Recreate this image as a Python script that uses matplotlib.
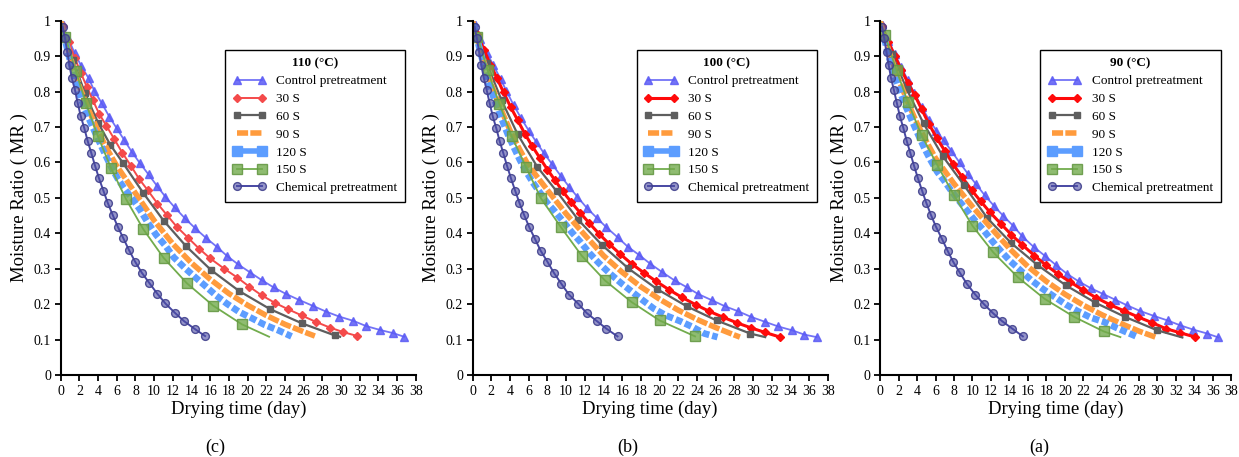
import matplotlib
matplotlib.use("Agg")
import matplotlib.pyplot as plt
from matplotlib.lines import Line2D
from matplotlib.ticker import FuncFormatter, MultipleLocator

plt.rcParams['font.family'] = ['Liberation Serif', 'DejaVu Serif']

# ---- values (drying time in days, moisture ratio) ----
# panel (c) 110 C
c_control_t = [0.1, 0.8, 1.5, 2.2, 3.0, 3.6, 4.4, 5.2, 6.0, 6.8, 7.6, 8.5, 9.4, 10.3, 11.2, 12.2, 13.3,
               14.4, 15.5, 16.7, 17.8, 19.0, 20.3, 21.5, 22.8, 24.1, 25.5, 27.0, 28.4, 29.8, 31.3,
               32.7, 34.2, 35.6, 36.75]
c_control = [0.995, 0.95, 0.908, 0.872, 0.837, 0.802, 0.767, 0.729, 0.696, 0.663, 0.630, 0.597,
             0.566, 0.534, 0.503, 0.473, 0.442, 0.414, 0.388, 0.362, 0.336, 0.312, 0.289, 0.268,
             0.247, 0.229, 0.212, 0.195, 0.179, 0.165, 0.153, 0.138, 0.127, 0.118, 0.108]
c_30_t = [0.2, 0.85, 1.5, 2.15, 2.8, 3.45, 4.1, 4.9, 5.75, 6.6, 7.5, 8.4, 9.3, 10.35, 11.35, 12.4,
          13.6, 14.8, 16.0, 17.5, 18.9, 20.2, 21.5, 22.9, 24.3, 25.8, 27.3, 28.8, 30.25, 31.75]
c_30 = [0.985, 0.94, 0.895, 0.853, 0.813, 0.775, 0.738, 0.703, 0.665, 0.627, 0.591, 0.553, 0.522,
        0.484, 0.452, 0.419, 0.388, 0.357, 0.329, 0.300, 0.275, 0.249, 0.225, 0.204, 0.186, 0.168,
        0.150, 0.134, 0.121, 0.110]
c_60_t = [0.0, 1.3, 2.6, 4.0, 5.3, 6.7, 8.8, 11.0, 13.4, 16.1, 19.1, 22.4, 25.8, 29.3, 29.9]
c_60 = [1.0, 0.89, 0.795, 0.712, 0.65, 0.597, 0.515, 0.436, 0.364, 0.296, 0.237, 0.186, 0.146,
        0.112, 0.108]
c_90_t = [0, 1, 2, 3, 4, 5, 6, 8, 10, 12, 14, 16, 18, 20, 22, 24, 26, 27.2]
c_90 = [1.0, 0.90, 0.815, 0.748, 0.688, 0.636, 0.59, 0.513, 0.436, 0.37, 0.316, 0.27, 0.23,
        0.197, 0.168, 0.143, 0.122, 0.110]
c_120_t = [0.3, 0.9, 1.5, 2.15, 2.8, 3.45, 4.1, 4.75, 5.45, 6.15, 6.9, 7.65, 8.45, 9.3, 10.2, 11.2,
           12.1, 13.2, 14.3, 15.4, 16.6, 17.8, 19.1, 20.4, 21.8, 23.3, 24.7]
c_120 = [0.965, 0.898, 0.84, 0.782, 0.737, 0.698, 0.66, 0.623, 0.585, 0.552, 0.523, 0.498, 0.468,
         0.431, 0.396, 0.365, 0.332, 0.304, 0.278, 0.253, 0.225, 0.201, 0.178, 0.161, 0.142,
         0.126, 0.109]
c_150_t = [0.0, 0.5, 1.6, 2.7, 3.96, 5.4, 7.0, 8.85, 11.0, 13.5, 16.3, 19.4, 22.3]
c_150 = [1.0, 0.955, 0.859, 0.767, 0.675, 0.583, 0.496, 0.411, 0.331, 0.259, 0.196, 0.143, 0.108]
c_chem_t = [0.2, 0.46, 0.71, 0.93, 1.18, 1.53, 1.82, 2.14, 2.53, 2.89, 3.28, 3.67, 4.10, 4.57, 5.03,
            5.56, 6.1, 6.7, 7.3, 7.96, 8.67, 9.5, 10.35, 11.2, 12.2, 13.2, 14.4, 15.45]
c_chem = [0.983, 0.950, 0.911, 0.875, 0.839, 0.804, 0.767, 0.731, 0.696, 0.660, 0.626, 0.591,
          0.555, 0.520, 0.486, 0.452, 0.419, 0.386, 0.353, 0.320, 0.289, 0.259, 0.229, 0.202,
          0.176, 0.152, 0.129, 0.110]

# panel (b) 100 C
b_control_t = [0.1, 0.8, 1.5, 2.2, 3.0, 3.6, 4.4, 5.2, 6.0, 6.8, 7.6, 8.5, 9.4, 10.3, 11.2, 12.2, 13.3,
               14.3, 15.5, 16.6, 17.8, 19.0, 20.3, 21.6, 22.9, 24.1, 25.6, 27.0, 28.4, 29.8, 31.3,
               32.7, 34.2, 35.5, 36.8]
b_control = [0.995, 0.948, 0.91, 0.875, 0.835, 0.802, 0.761, 0.724, 0.69, 0.658, 0.627, 0.595,
             0.563, 0.532, 0.503, 0.472, 0.443, 0.417, 0.389, 0.362, 0.339, 0.314, 0.29, 0.267,
             0.248, 0.229, 0.211, 0.194, 0.18, 0.164, 0.15, 0.137, 0.126, 0.114, 0.107]
b_30_t = [0.5, 1.2, 1.9, 2.6, 3.3, 4.05, 4.8, 5.6, 6.4, 7.2, 8.0, 8.8, 9.65, 10.55, 11.5, 12.5, 13.5,
          14.6, 15.8, 17.0, 18.3, 19.6, 21.0, 22.4, 23.9, 25.3, 26.8, 28.3, 29.8, 31.3, 32.9]
b_30 = [0.962, 0.918, 0.876, 0.838, 0.798, 0.757, 0.72, 0.68, 0.645, 0.612, 0.58, 0.55, 0.518,
        0.488, 0.458, 0.428, 0.399, 0.37, 0.341, 0.314, 0.289, 0.265, 0.241, 0.219, 0.198, 0.18,
        0.163, 0.147, 0.133, 0.12, 0.107]
b_60_t = [0.0, 1.5, 3.1, 4.8, 6.9, 9.0, 11.3, 13.8, 16.65, 19.7, 22.9, 26.1, 29.7, 31.3]
b_60 = [1.0, 0.88, 0.775, 0.68, 0.588, 0.518, 0.438, 0.368, 0.301, 0.243, 0.194, 0.154, 0.117,
        0.107]
b_90_t = [0, 1, 2, 3, 4, 5, 6, 8, 10, 12, 14, 16, 18, 20, 22, 24, 26, 28, 28.6]
b_90 = [1.0, 0.9, 0.82, 0.752, 0.69, 0.638, 0.59, 0.522, 0.455, 0.395, 0.337, 0.29, 0.249,
        0.214, 0.183, 0.157, 0.134, 0.113, 0.107]
b_120_t = [0.1, 0.7, 1.3, 1.9, 2.5, 3.1, 3.75, 4.4, 5.05, 5.75, 6.45, 7.2, 8.0, 8.85, 9.7, 10.6,
           11.55, 12.5, 13.5, 14.7, 15.9, 17.0, 18.2, 19.4, 20.7, 22.2, 23.5, 24.8, 26.2]
b_120 = [0.99, 0.925, 0.862, 0.808, 0.765, 0.723, 0.68, 0.643, 0.607, 0.573, 0.543, 0.515, 0.485,
         0.46, 0.433, 0.403, 0.375, 0.344, 0.316, 0.286, 0.259, 0.236, 0.211, 0.187, 0.168,
         0.152, 0.136, 0.117, 0.107]
b_150_t = [0.0, 0.5, 1.6, 2.85, 4.17, 5.7, 7.3, 9.45, 11.66, 14.15, 17.0, 20.0, 23.8]
b_150 = [1.0, 0.955, 0.86, 0.766, 0.674, 0.587, 0.499, 0.417, 0.337, 0.267, 0.206, 0.154, 0.109]
b_chem_t = [0.2, 0.45, 0.7, 0.93, 1.18, 1.5, 1.82, 2.14, 2.53, 2.89, 3.28, 3.67, 4.1, 4.55, 5.0,
            5.5, 6.06, 6.67, 7.27, 7.99, 8.7, 9.5, 10.3, 11.3, 12.2, 13.3, 14.3, 15.5]
b_chem = [0.983, 0.95, 0.911, 0.875, 0.839, 0.804, 0.767, 0.731, 0.696, 0.66, 0.626, 0.591, 0.555,
          0.52, 0.486, 0.452, 0.417, 0.384, 0.351, 0.32, 0.288, 0.257, 0.227, 0.201, 0.175,
          0.152, 0.131, 0.109]

# panel (a) 90 C
a_control_t = [0.2, 0.9, 1.6, 2.3, 3.0, 3.7, 4.5, 5.3, 6.1, 6.9, 7.7, 8.6, 9.5, 10.4, 11.3, 12.3,
               13.3, 14.4, 15.4, 16.6, 17.8, 19.0, 20.2, 21.5, 22.8, 24.1, 25.4, 26.7, 28.1, 29.6,
               31.1, 32.5, 33.9, 35.4, 36.6]
a_control = [0.99, 0.944, 0.905, 0.868, 0.833, 0.795, 0.757, 0.72, 0.69, 0.662, 0.633, 0.6, 0.568,
             0.538, 0.508, 0.478, 0.45, 0.421, 0.391, 0.362, 0.337, 0.311, 0.286, 0.264, 0.245,
             0.229, 0.213, 0.197, 0.181, 0.167, 0.154, 0.14, 0.128, 0.117, 0.106]
a_30_t = [0.2, 0.9, 1.6, 2.3, 3.0, 3.75, 4.5, 5.3, 6.15, 7.0, 7.9, 8.9, 9.9, 10.9, 11.9, 13.1, 14.2,
          15.4, 16.7, 17.9, 19.2, 20.6, 22.0, 23.4, 24.9, 26.4, 27.9, 29.4, 30.9, 32.5, 34.1]
a_30 = [0.985, 0.94, 0.9, 0.862, 0.825, 0.79, 0.75, 0.708, 0.668, 0.633, 0.595, 0.558, 0.522,
        0.49, 0.459, 0.426, 0.396, 0.367, 0.337, 0.311, 0.286, 0.262, 0.239, 0.218, 0.198, 0.181,
        0.164, 0.148, 0.131, 0.119, 0.107]
a_60_t = [0.0, 1.3, 2.9, 4.7, 6.8, 9.1, 11.6, 14.2, 17.0, 20.1, 23.3, 26.5, 30.0, 32.7]
a_60 = [1.0, 0.905, 0.806, 0.71, 0.617, 0.535, 0.443, 0.372, 0.311, 0.253, 0.204, 0.164, 0.126,
        0.106]
a_90_t = [0, 1, 2, 3, 4, 5, 6, 8, 10, 12, 14, 16, 18, 20, 22, 24, 26, 28, 29.9]
a_90 = [1.0, 0.91, 0.835, 0.77, 0.71, 0.66, 0.612, 0.54, 0.475, 0.415, 0.357, 0.306, 0.264,
        0.228, 0.197, 0.17, 0.146, 0.124, 0.106]
a_120_t = [0.45, 1.05, 1.65, 2.25, 2.85, 3.5, 4.15, 4.8, 5.5, 6.2, 6.95, 7.7, 8.5, 9.35, 10.2, 11.1,
           12.1, 13.1, 14.1, 15.2, 16.3, 17.6, 18.8, 20.1, 21.4, 22.8, 24.2, 25.6, 27.0, 27.9]
a_120 = [0.95, 0.89, 0.838, 0.793, 0.754, 0.715, 0.677, 0.64, 0.605, 0.573, 0.548, 0.52, 0.493,
         0.466, 0.438, 0.412, 0.379, 0.349, 0.321, 0.295, 0.269, 0.243, 0.222, 0.199, 0.18, 0.162,
         0.15, 0.133, 0.117, 0.107]
a_150_t = [0.0, 0.5, 1.78, 3.0, 4.5, 6.2, 8.0, 10.0, 12.25, 14.9, 17.8, 21.0, 24.2, 26.0]
a_150 = [1.0, 0.96, 0.86, 0.771, 0.676, 0.592, 0.507, 0.421, 0.346, 0.276, 0.215, 0.164, 0.123,
         0.107]
a_chem_t = [0.2, 0.45, 0.7, 0.93, 1.18, 1.5, 1.82, 2.14, 2.53, 2.89, 3.28, 3.67, 4.1, 4.55, 5.0,
            5.5, 6.04, 6.7, 7.3, 7.9, 8.6, 9.4, 10.3, 11.2, 12.2, 13.2, 14.3, 15.45]
a_chem = [0.983, 0.95, 0.911, 0.875, 0.839, 0.804, 0.767, 0.731, 0.696, 0.66, 0.626, 0.591, 0.555,
          0.52, 0.486, 0.452, 0.419, 0.384, 0.351, 0.32, 0.29, 0.257, 0.227, 0.201, 0.175, 0.152,
          0.131, 0.109]

labels = ['Control pretreatment', '30 S', '60 S', '90 S', '120 S', '150 S', 'Chemical pretreatment']
titles = ['110 (°C)', '100 (°C)', '90 (°C)']
panel_tags = ['(c)', '(b)', '(a)']

panels = [
    [(c_control_t, c_control), (c_30_t, c_30), (c_60_t, c_60), (c_90_t, c_90),
     (c_120_t, c_120), (c_150_t, c_150), (c_chem_t, c_chem)],
    [(b_control_t, b_control), (b_30_t, b_30), (b_60_t, b_60), (b_90_t, b_90),
     (b_120_t, b_120), (b_150_t, b_150), (b_chem_t, b_chem)],
    [(a_control_t, a_control), (a_30_t, a_30), (a_60_t, a_60), (a_90_t, a_90),
     (a_120_t, a_120), (a_150_t, a_150), (a_chem_t, a_chem)],
]

BLUE120 = '#5C9DFF'


def styles(i):
    # in (c) the 30 S line is lighter and thinner; the 150 S end has no marker except in (b)
    red = '#F44A4A' if i == 0 else '#FF0A0A'
    red_lw = 1.4 if i == 0 else 2.2
    green_every = slice(1, None) if i == 1 else slice(1, -1)
    return [
        dict(color='#5B5BF5', lw=1.3, marker='^', ms=5.5, alpha=0.85),
        dict(color=red, lw=red_lw, marker='D', ms=4.3),
        dict(color='#5E5E5E', lw=1.6, marker='s', ms=4.5, markevery=slice(1, -1)),
        dict(color='#FF9B3D', lw=4.0, dashes=(2.0, 0.4)),
        dict(color=BLUE120, lw=4.8, dashes=(1.05, 0.45)),
        dict(color='#72AC4D', lw=1.3, marker='s', ms=6.5, markevery=green_every,
             mfc=(0.45, 0.67, 0.3, 0.8), mec=(0.4, 0.6, 0.27, 0.9)),
        dict(color='#4747A3', lw=1.4, marker='o', ms=5.6,
             mfc=(0.3, 0.3, 0.65, 0.6), mec=(0.25, 0.25, 0.55, 0.9)),
    ]


fig = plt.figure(figsize=(12.39, 4.57), dpi=100)
lefts = [0.049, 0.3815, 0.7103]
widths = [0.2866, 0.2866, 0.2835]
tag_x = [0.1735, 0.507, 0.839]

for i in range(3):
    ax = fig.add_axes([lefts[i], 0.1794, widths[i], 0.7753])
    handles = []
    for (t, mr), lab, st in zip(panels[i], labels, styles(i)):
        line, = ax.plot(t, mr, label=lab, **st)
        handles.append(line)
    # the 120 S legend key shows square markers on the thick line
    handles[4] = Line2D([], [], color=BLUE120, lw=4.0, marker='s', ms=6.5)
    ax.set_xlim(0, 38)
    ax.set_ylim(0, 1)
    ax.xaxis.set_major_locator(MultipleLocator(2))
    ax.yaxis.set_major_locator(MultipleLocator(0.1))
    ax.yaxis.set_major_formatter(FuncFormatter(lambda v, p: '%g' % round(v, 1)))
    for s in ['top', 'right']:
        ax.spines[s].set_visible(False)
    for s in ['left', 'bottom']:
        ax.spines[s].set_linewidth(1.5)
    ax.tick_params(direction='out', length=4, width=1.3, labelsize=10, pad=3)
    ax.set_xlabel('Drying time (day)', fontsize=13.5, labelpad=2)
    ax.set_ylabel('Moisture Ratio ( MR )', fontsize=13.5, labelpad=4)
    leg = ax.legend(handles, labels, loc='upper right', bbox_to_anchor=(0.97, 0.918),
                    borderaxespad=0, title=titles[i],
                    title_fontproperties={'weight': 'bold', 'size': 9.5},
                    fontsize=9.5, numpoints=2, handlelength=2.5, labelspacing=0.42,
                    fancybox=False, framealpha=1, edgecolor='black', borderpad=0.6)
    leg.get_frame().set_linewidth(1.0)
    fig.text(tag_x[i], 0.022, panel_tags[i], fontsize=13, ha='center', va='center')

fig.savefig('out.png', dpi=100)
